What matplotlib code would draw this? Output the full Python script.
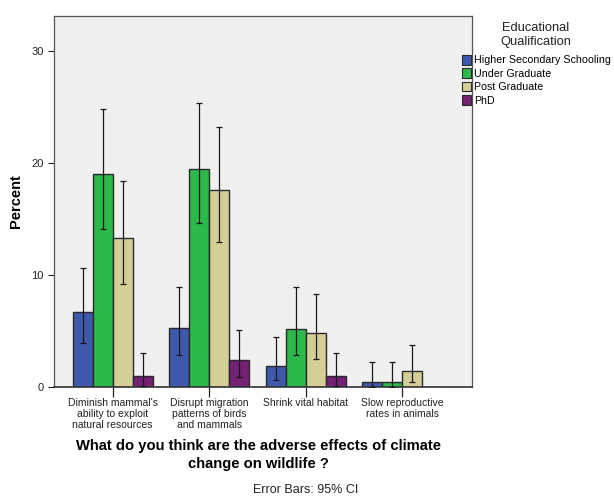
import numpy as np
import matplotlib.pyplot as plt
from matplotlib.patches import Patch

plt.rcParams['font.family'] = ['Liberation Sans', 'DejaVu Sans']

# Data
categories = [
    "Diminish mammal's\nability to exploit\nnatural resources",
    "Disrupt migration\npatterns of birds\nand mammals",
    "Shrink vital habitat",
    "Slow reproductive\nrates in animals",
]
groups = ["Higher Secondary Schooling", "Under Graduate", "Post Graduate", "PhD"]
colors = ["#3e58ac", "#2db84a", "#d4ce97", "#742074"]

values = {
    "Higher Secondary Schooling": [6.67, 5.24, 1.90, 0.48],
    "Under Graduate": [19.0, 19.46, 5.20, 0.48],
    "Post Graduate": [13.3, 17.6, 4.79, 1.46],
    "PhD": [0.95, 2.38, 0.95, 0.0],
}
ci_low = {
    "Higher Secondary Schooling": [3.9, 2.83, 0.65, 0.02],
    "Under Graduate": [14.1, 14.6, 2.83, 0.02],
    "Post Graduate": [9.2, 12.95, 2.47, 0.42],
    "PhD": [0.05, 0.9, 0.05, np.nan],
}
ci_high = {
    "Higher Secondary Schooling": [10.65, 8.9, 4.43, 2.2],
    "Under Graduate": [24.8, 25.3, 8.9, 2.2],
    "Post Graduate": [18.4, 23.2, 8.27, 3.78],
    "PhD": [3.0, 5.12, 3.0, np.nan],
}

fig = plt.figure(figsize=(6.14, 4.96), dpi=100)
ax = fig.add_axes([54 / 614, 1 - 387 / 496, 418 / 614, 371 / 496])
ax.set_facecolor("#f0f0f0")

x = np.arange(len(categories))
width = 0.207
for i, g in enumerate(groups):
    pos = x + (i - 1.5) * width
    vals = np.array(values[g])
    lo = np.array(ci_low[g])
    hi = np.array(ci_high[g])
    ax.bar(pos, vals, width, color=colors[i], edgecolor="#2a2a2a",
           linewidth=1.0, zorder=2)
    ax.errorbar(pos, vals, yerr=[vals - lo, hi - vals], fmt="none",
                ecolor="#1a1a1a", elinewidth=0.9, capsize=2.5,
                capthick=0.9, zorder=3)

ax.set_xlim(-0.608, 3.72)
ax.set_ylim(0, 33.1)
ax.set_yticks([0, 10, 20, 30])
ax.set_xticks(x)
ax.set_xticklabels(categories, fontsize=7.5, color="#222222", linespacing=1.1)
ax.tick_params(axis="y", labelsize=8, colors="#222222", length=4, width=0.8)
ax.tick_params(axis="x", length=7, width=0.9, pad=1, colors="#222222")

for s in ["top", "right", "left"]:
    ax.spines[s].set_color("#555555")
    ax.spines[s].set_linewidth(0.9)
ax.spines["bottom"].set_color("#333333")
ax.spines["bottom"].set_linewidth(1.2)

ax.set_ylabel("Percent", fontsize=10.5, fontweight="bold", labelpad=6)

fig.text(258 / 614, 1 - 455 / 496, "What do you think are the adverse effects of climate\nchange on wildlife ?",
         ha="center", va="center", fontsize=10.6, fontweight="bold", linespacing=1.3)
fig.text(306 / 614, 1 - 490 / 496, "Error Bars: 95% CI", ha="center", va="center",
         fontsize=9, color="#222222")

fig.text(536 / 614, 1 - 35 / 496, "Educational\nQualification", ha="center",
         va="center", fontsize=9.3, color="#222222", linespacing=1.3)

handles = [Patch(facecolor=c, edgecolor="#2a2a2a", linewidth=0.8) for c in colors]
fig.legend(handles, groups, loc="upper left", bbox_to_anchor=(462 / 614, 1 - 55 / 496),
           frameon=False, fontsize=7.7, handlelength=0.85, handleheight=1.0,
           handletextpad=0.25, labelspacing=0.28, borderpad=0, borderaxespad=0)

fig.savefig("out.png", dpi=100)
